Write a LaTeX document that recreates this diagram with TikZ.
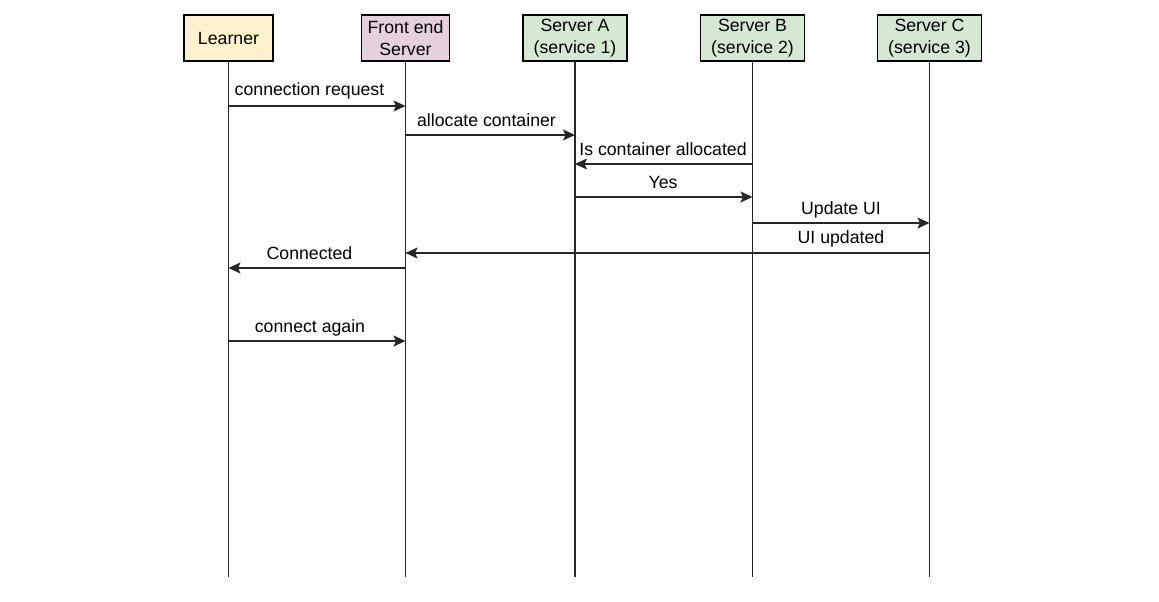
\documentclass[tikz,border=0pt]{standalone}
\usepackage{fontspec}
\setmainfont{Liberation Sans}
\usetikzlibrary{arrows.meta}
\begin{document}
\begin{tikzpicture}[x=1pt,y=-1pt,
  actor/.style={draw=black,line width=1.5pt,minimum height=46pt,inner sep=0pt,align=center,
    font=\fontsize{17.7}{22.5}\selectfont},
  life/.style={draw=black!85,line width=1.4pt},
  msg/.style={draw=black!85,line width=1.4pt,-{Stealth[length=12pt,width=11pt,inset=2.5pt]}},
  lbl/.style={font=\fontsize{17.7}{21}\selectfont,inner sep=0pt}]
\useasboundingbox (0,0) rectangle (1159,602);
\definecolor{cyel}{HTML}{FFF2CC}
\definecolor{cpur}{HTML}{E6D0DE}
\definecolor{cgrn}{HTML}{D5E8D4}
% actors
\node[actor,fill=cyel,minimum width=89pt] (L) at (228.5,38) {\raisebox{-1pt}{Learner}};
\node[actor,fill=cpur,minimum width=88pt] (F) at (405.5,38) {\raisebox{-1pt}{Front end}\\Server};
\node[actor,fill=cgrn,minimum width=104pt] (A) at (575,38) {\raisebox{-1pt}{Server A}\\(service 1)};
\node[actor,fill=cgrn,minimum width=104pt] (B) at (752.5,38) {\raisebox{-1pt}{Server B}\\(service 2)};
\node[actor,fill=cgrn,minimum width=104pt] (C) at (929.5,38) {\raisebox{-1pt}{Server C}\\(service 3)};
% lifeline ends
\coordinate (Le) at (229,577);
\coordinate (Fe) at (405.5,577);
\coordinate (Ae) at (575.5,577);
\coordinate (Be) at (752,577);
\coordinate (Ce) at (929,577);
\draw[life] (L.south) -- (L.south |- Le);
\draw[life] (F.south) -- (F.south |- Fe);
\draw[life] (A.south) -- (A.south |- Ae);
\draw[life] (B.south) -- (B.south |- Be);
\draw[life] (C.south) -- (C.south |- Ce);
% messages
\draw[msg] (L.south |- 0,106) -- (F.south |- 0,106);
\node[lbl] (t1) at (309.5,91) {connection request};
\draw[msg] (F.south |- 0,135) -- (A.south |- 0,135);
\node[lbl] (t2) at (486.5,120) {allocate container};
\draw[msg] (B.south |- 0,164) -- (A.south |- 0,164);
\node[lbl] (t3) at (663,149.5) {Is container allocated};
\draw[msg] (A.south |- 0,197) -- (B.south |- 0,197);
\node[lbl] (t4) at (663,182) {Yes};
\draw[msg] (B.south |- 0,223) -- (C.south |- 0,223);
\node[lbl] (t5) at (841,209.5) {Update UI};
\draw[msg] (C.south |- 0,253) -- (F.south |- 0,253);
\node[lbl] (t6) at (841,238.5) {UI updated};
\draw[msg] (F.south |- 0,268) -- (L.south |- 0,268);
\node[lbl] (t7) at (309.5,253) {Connected};
\draw[msg] (L.south |- 0,341) -- (F.south |- 0,341);
\node[lbl] (t8) at (310,327.5) {connect again};
\end{tikzpicture}
\end{document}
